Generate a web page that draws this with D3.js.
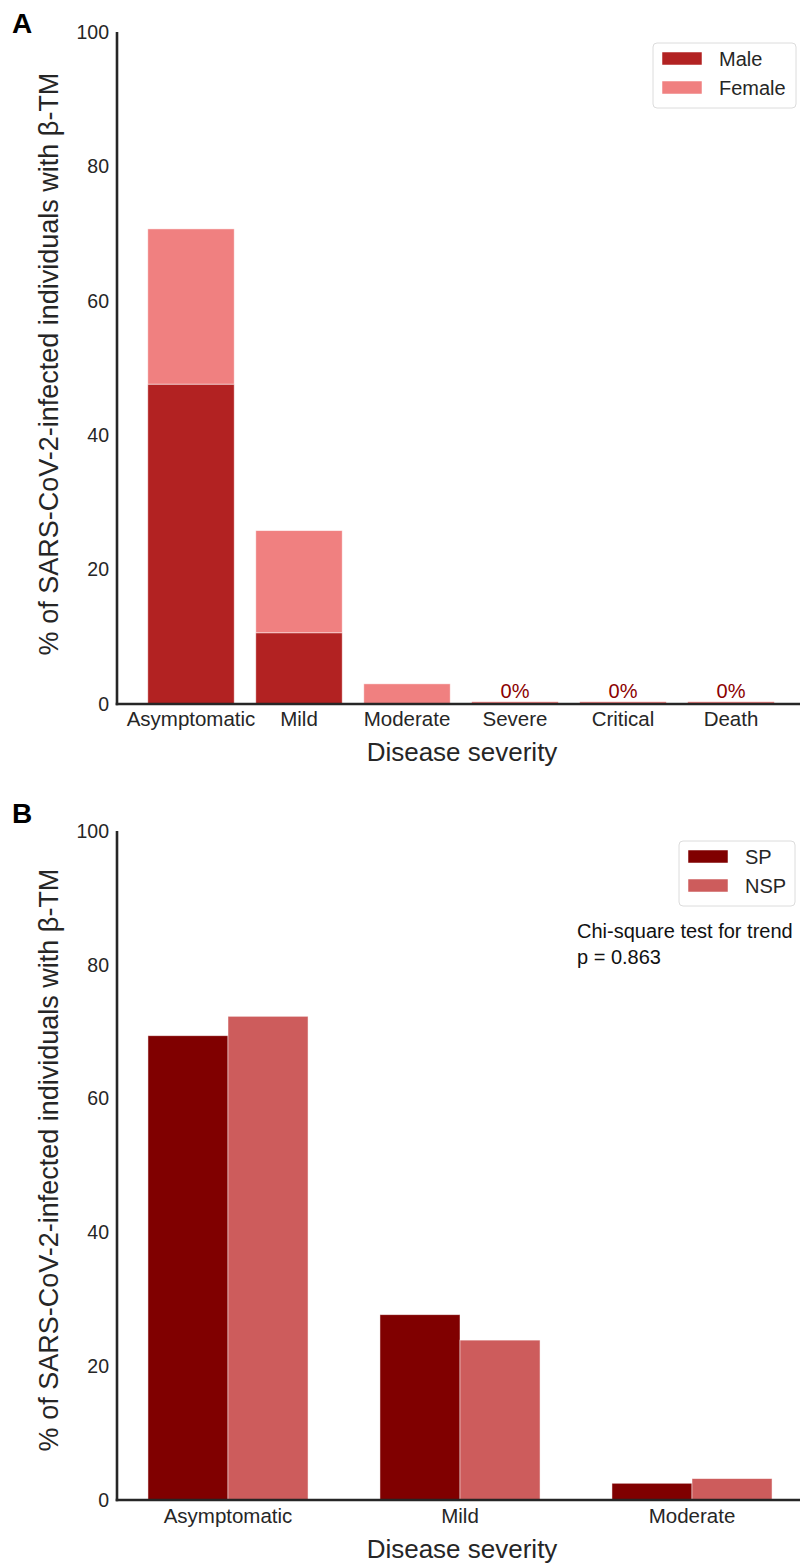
<!DOCTYPE html>
<html>
<head>
<meta charset="utf-8">
<script src="https://cdn.jsdelivr.net/npm/d3@7"></script>
<style>
  html, body { margin: 0; padding: 0; background: #fff; }
  svg { display: block; font-family: Arial, "Liberation Sans", Helvetica, sans-serif; }
</style>
</head>
<body>
<svg id="chart" width="800" height="1564"></svg>
<script>
// ---- Data ----
const categoriesA = ["Asymptomatic", "Mild", "Moderate", "Severe", "Critical", "Death"];
const maleA = [47.6, 10.6, 0, 0, 0, 0];
const femaleA = [23.1, 15.2, 3.0, 0, 0, 0];
const seriesA = ["Male", "Female"];

const categoriesB = ["Asymptomatic", "Mild", "Moderate"];
const spB = [69.4, 27.7, 2.5];
const nspB = [72.3, 23.9, 3.2];
const seriesB = ["SP", "NSP"];

const yTicks = [0, 20, 40, 60, 80, 100];
const yLabel = "% of SARS-CoV-2-infected individuals with β-TM";
const xLabel = "Disease severity";
const statLines = ["Chi-square test for trend", "p = 0.863"];

// ---- Styles ----
const colMale = "#b22222", colFemale = "#f08080";
const colSP = "#800000", colNSP = "#cd5c5c";
const textCol = "#262626";

const svg = d3.select("#chart");

function drawAxes(g, y, axisLeft, axisRight, axisBottomY) {
  const top = y(100);
  g.append("line").attr("x1", axisLeft).attr("x2", axisLeft)
    .attr("y1", top).attr("y2", axisBottomY + 1.25)
    .attr("stroke", textCol).attr("stroke-width", 2.6);
  g.append("line").attr("x1", axisLeft - 1.3).attr("x2", axisRight)
    .attr("y1", axisBottomY).attr("y2", axisBottomY)
    .attr("stroke", textCol).attr("stroke-width", 2.6);
  const ax = d3.axisLeft(y).tickValues(yTicks).tickSize(0).tickPadding(8);
  const ga = g.append("g").attr("transform", `translate(${axisLeft},0)`).call(ax);
  ga.select(".domain").remove();
  ga.selectAll("text").attr("font-size", 19.5).attr("fill", textCol)
    .attr("font-family", "Arial, 'Liberation Sans', sans-serif");
}

function yTitle(g, cy) {
  g.append("text")
    .attr("transform", `translate(58,${cy}) rotate(-90)`)
    .attr("text-anchor", "middle")
    .attr("font-size", 27).attr("fill", textCol)
    .text(yLabel);
}

function legend(g, x0, y0, w, h, names, colors) {
  g.append("rect").attr("x", x0).attr("y", y0).attr("width", w).attr("height", h)
    .attr("rx", 4).attr("fill", "#fff").attr("stroke", "#dcdcdc").attr("stroke-width", 1);
  names.forEach((n, i) => {
    const cy = y0 + 15 + i * 29;
    g.append("rect").attr("x", x0 + 9).attr("y", cy - 6).attr("width", 40).attr("height", 13)
      .attr("fill", colors[i]).attr("stroke", "#fff").attr("stroke-width", 0.5);
    g.append("text").attr("x", x0 + 66).attr("y", cy + 8)
      .attr("font-size", 20).attr("fill", textCol).text(n);
  });
}

// ================= Panel A =================
{
  const g = svg.append("g");
  const axisLeft = 117, axisRight = 800;
  const y = d3.scaleLinear().domain([0, 100]).range([704, 32]);
  const x = d3.scaleBand().domain(categoriesA).range([137, 785])
    .paddingInner(0.2).paddingOuter(0.1);

  const rows = categoriesA.map((c, i) => ({ c, Male: maleA[i], Female: femaleA[i] }));
  const stack = d3.stack().keys(seriesA)(rows);
  const colors = { Male: colMale, Female: colFemale };

  stack.forEach(layer => {
    g.append("g").selectAll("rect").data(layer).join("rect")
      .attr("x", d => x(d.data.c))
      .attr("width", x.bandwidth())
      .attr("y", d => y(d[1]))
      .attr("height", d => Math.max(0, y(d[0]) - y(d[1])))
      .attr("fill", colors[layer.key])
      .attr("stroke", "#fff").attr("stroke-opacity", 0.6).attr("stroke-width", 0.8);
  });

  const zeros = rows.filter(r => r.Male + r.Female === 0);
  g.append("g").selectAll("rect").data(zeros).join("rect")
    .attr("x", d => x(d.c)).attr("width", x.bandwidth())
    .attr("y", y(0) - 2.2).attr("height", 2.2)
    .attr("fill", colFemale);
  g.append("g").selectAll("text").data(zeros).join("text")
    .attr("x", d => x(d.c) + x.bandwidth() / 2)
    .attr("y", y(0) - 6)
    .attr("text-anchor", "middle").attr("font-size", 20).attr("fill", "#8b0000")
    .text("0%");

  drawAxes(g, y, axisLeft, axisRight, 704);

  g.append("g").selectAll("text").data(categoriesA).join("text")
    .attr("x", d => x(d) + x.bandwidth() / 2).attr("y", 726)
    .attr("text-anchor", "middle").attr("font-size", 20.5).attr("fill", textCol)
    .text(d => d);

  g.append("text").attr("x", 462).attr("y", 761).attr("text-anchor", "middle")
    .attr("font-size", 26).attr("fill", textCol).text(xLabel);

  yTitle(g, 364);
  legend(g, 653, 43, 143, 65, seriesA, [colMale, colFemale]);

  g.append("text").attr("x", 12).attr("y", 33).attr("font-size", 28)
    .attr("font-weight", "bold").attr("fill", "#000").text("A");
}

// ================= Panel B =================
{
  const g = svg.append("g");
  const axisLeft = 117, axisRight = 800;
  const y = d3.scaleLinear().domain([0, 100]).range([1500, 831]);
  const x = d3.scaleBand().domain(categoriesB).range([112, 808])
    .paddingInner(0.31).paddingOuter(0.155);
  const xs = d3.scaleBand().domain(seriesB).range([0, x.bandwidth()]);

  const rows = categoriesB.map((c, i) => ({ c, SP: spB[i], NSP: nspB[i] }));
  const colors = { SP: colSP, NSP: colNSP };

  g.append("g").selectAll("g").data(rows).join("g")
    .attr("transform", d => `translate(${x(d.c)},0)`)
    .selectAll("rect").data(d => seriesB.map(k => ({ k, v: d[k] }))).join("rect")
    .attr("x", d => xs(d.k))
    .attr("width", xs.bandwidth())
    .attr("y", d => y(d.v))
    .attr("height", d => y(0) - y(d.v))
    .attr("fill", d => colors[d.k])
    .attr("stroke", "#fff").attr("stroke-opacity", 0.6).attr("stroke-width", 0.8);

  drawAxes(g, y, axisLeft, axisRight, 1500);

  g.append("g").selectAll("text").data(categoriesB).join("text")
    .attr("x", d => x(d) + x.bandwidth() / 2).attr("y", 1523)
    .attr("text-anchor", "middle").attr("font-size", 20.5).attr("fill", textCol)
    .text(d => d);

  g.append("text").attr("x", 462).attr("y", 1558).attr("text-anchor", "middle")
    .attr("font-size", 26).attr("fill", textCol).text(xLabel);

  yTitle(g, 1160);
  legend(g, 679, 841, 116, 65, seriesB, [colSP, colNSP]);

  g.append("g").selectAll("text").data(statLines).join("text")
    .attr("x", 577).attr("y", (d, i) => 938 + i * 26)
    .attr("font-size", 20).attr("fill", "#111").text(d => d);

  g.append("text").attr("x", 12).attr("y", 823).attr("font-size", 28)
    .attr("font-weight", "bold").attr("fill", "#000").text("B");
}
</script>
</body>
</html>
